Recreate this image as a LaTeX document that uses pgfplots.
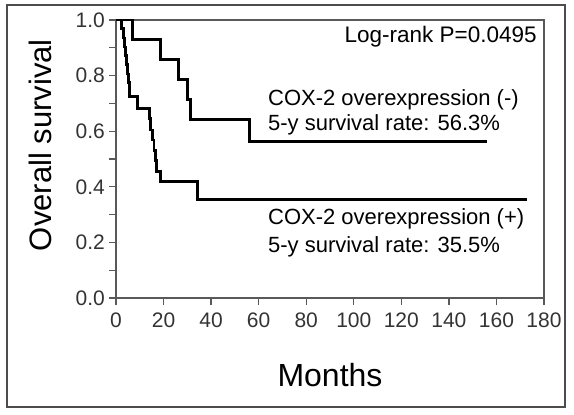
\documentclass[border=0pt]{standalone}
\usepackage{pgfplots}
\pgfplotsset{compat=1.18}
\usepackage{fontspec}
\setmainfont{Liberation Sans}
\begin{document}
\begin{tikzpicture}
\path[use as bounding box] (0,0) rectangle (574bp,415bp);
\draw[color=black!70, line width=1.5bp] (7bp,8bp) rectangle (565bp,410bp);
\begin{axis}[
  at={(116bp,117bp)}, anchor=south west,
  scale only axis, width=428bp, height=278bp,
  xmin=0, xmax=180, ymin=0, ymax=1,
  xtick={0,20,40,60,80,100,120,140,160,180},
  ytick={0,0.2,0.4,0.6,0.8,1.0},
  minor ytick={0.1,0.3,0.5,0.7,0.9},
  xtick pos=left, ytick pos=left, tick align=outside,
  major tick length=7bp, minor tick length=7bp,
  axis line style={black!65, line width=1.6bp},
  every tick/.style={black!65, line width=1.3bp},
  /pgf/number format/assume math mode=true,
  yticklabel style={/pgf/number format/fixed, /pgf/number format/fixed zerofill, /pgf/number format/precision=1, inner xsep=4bp},
  ticklabel style={font=\fontsize{21bp}{24bp}\selectfont, text=black!80},
  xticklabel style={yshift=-4bp},
  xlabel={Months},
  ylabel={Overall survival},
  xlabel style={font=\fontsize{32bp}{36bp}\selectfont, at={(axis description cs:0.5,-0.277)}, anchor=center},
  ylabel style={font=\fontsize{31bp}{36bp}\selectfont, at={(axis description cs:-0.1776,0.55)}, anchor=center},
  clip=false,
]
\addplot[const plot, black, line width=2.8bp] coordinates {
  (0,1.000) (7.1,0.929) (18.6,0.857) (26.3,0.786) (30.2,0.714) (31.2,0.643) (56.1,0.563) (156,0.563)
};
\addplot[const plot, black, line width=2.8bp] coordinates {
  (0,1.000) (2.4,0.968) (3.1,0.935) (3.6,0.903) (4.0,0.871) (4.4,0.839) (4.7,0.806) (5.2,0.774)
  (5.7,0.726) (9.0,0.682) (14.2,0.645) (14.6,0.604) (15.2,0.568) (16.0,0.532) (16.5,0.496)
  (17.2,0.454) (18.6,0.420) (34.2,0.355) (173,0.355)
};
\node[anchor=base east, inner sep=0pt, font=\fontsize{22.5bp}{26bp}\selectfont] at (axis cs:177,0.918) {Log-rank P=0.0495};
\node[anchor=base west, inner sep=0pt, font=\fontsize{22bp}{26bp}\selectfont] at (axis cs:63.9,0.694) {COX-2 overexpression (-)};
\node[anchor=base west, inner sep=0pt, font=\fontsize{22bp}{26bp}\selectfont] at (axis cs:63.9,0.604) {5-y survival rate: 56.3\%};
\node[anchor=base west, inner sep=0pt, font=\fontsize{22bp}{26bp}\selectfont] at (axis cs:63.9,0.263) {COX-2 overexpression (+)};
\node[anchor=base west, inner sep=0pt, font=\fontsize{22bp}{26bp}\selectfont] at (axis cs:63.9,0.165) {5-y survival rate: 35.5\%};
\end{axis}
\end{tikzpicture}
\end{document}
